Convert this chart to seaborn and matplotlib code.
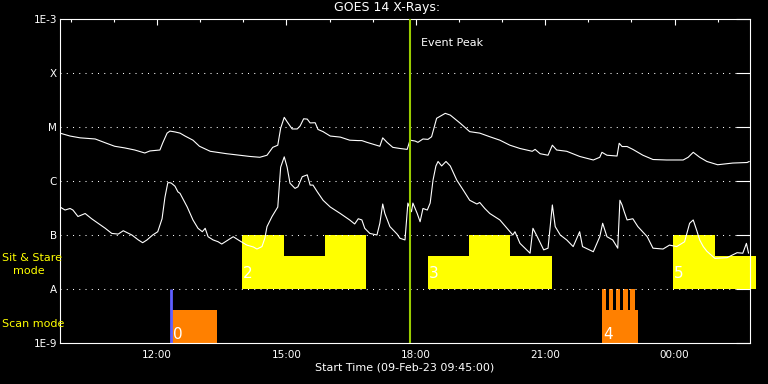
"""GOES 14 X-ray light curves with the instrument observing modes underneath"""

import pandas as pd
import seaborn as sns
import matplotlib
matplotlib.use("Agg")
import matplotlib.pyplot as plt
import matplotlib.dates as mdates
from matplotlib.ticker import NullLocator

DAY = "2023-02-09"
START, END = "09:45", "01:45"

# GOES long channel (upper curve), W/m^2
long_times = ["09:45", "09:59", "10:13", "10:34", "10:48", "11:01", "11:15", "11:29",
              "11:43", "11:50", "12:04", "12:08", "12:14", "12:18", "12:25", "12:32",
              "12:39", "12:50", "12:59", "13:14", "13:37", "13:55", "14:09", "14:23",
              "14:33", "14:41", "14:48", "14:52", "14:57", "15:01", "15:08", "15:15",
              "15:19", "15:24", "15:29", "15:33", "15:40", "15:44", "15:51", "16:01",
              "16:15", "16:28", "16:40", "16:45", "16:52", "17:10", "17:14", "17:20",
              "17:28", "17:38", "17:48", "17:52", "17:59", "18:03", "18:10", "18:17",
              "18:22", "18:29", "18:41", "18:48", "19:02", "19:15", "19:29", "19:43",
              "19:57", "20:11", "20:25", "20:42", "20:46", "20:53", "21:04", "21:10",
              "21:16", "21:30", "21:48", "22:07", "22:16", "22:19", "22:26", "22:40",
              "22:43", "22:47", "22:54", "23:02", "23:16", "23:30", "23:49", "00:12",
              "00:19", "00:26", "00:35", "00:45", "01:00", "01:21", "01:41", "01:44"]
long_flux = [7.7e-6, 6.8e-6, 6.3e-6, 6.0e-6, 5.1e-6, 4.4e-6, 4.1e-6, 3.75e-6,
             3.3e-6, 3.6e-6, 3.75e-6, 5.1e-6, 7.7e-6, 8.4e-6, 8.1e-6, 7.7e-6,
             6.8e-6, 5.7e-6, 4.4e-6, 3.55e-6, 3.2e-6, 3.0e-6, 2.85e-6, 2.75e-6,
             3.0e-6, 4.2e-6, 4.6e-6, 9.5e-6, 1.51e-5, 1.25e-5, 9.2e-6, 9.2e-6,
             1.04e-5, 1.42e-5, 1.40e-5, 1.19e-5, 1.2e-5, 9.0e-6, 8.2e-6, 6.8e-6,
             6.5e-6, 5.7e-6, 5.6e-6, 5.6e-6, 5.2e-6, 4.4e-6, 6.3e-6, 5.2e-6,
             4.2e-6, 4.0e-6, 3.85e-6, 5.7e-6, 5.5e-6, 5.2e-6, 6.0e-6, 5.9e-6,
             6.6e-6, 1.45e-5, 1.79e-5, 1.66e-5, 1.17e-5, 8.2e-6, 7.7e-6, 6.6e-6,
             5.7e-6, 4.6e-6, 4.0e-6, 3.55e-6, 3.85e-6, 3.2e-6, 3.0e-6, 4.6e-6,
             3.75e-6, 3.55e-6, 2.85e-6, 2.45e-6, 2.75e-6, 3.4e-6, 3.0e-6, 2.9e-6,
             5.0e-6, 4.35e-6, 4.35e-6, 3.85e-6, 3.0e-6, 2.5e-6, 2.45e-6, 2.45e-6,
             2.75e-6, 3.4e-6, 2.75e-6, 2.3e-6, 2.0e-6, 2.15e-6, 2.2e-6, 2.3e-6]

# GOES short channel (lower curve), W/m^2
short_times = ["09:45", "09:52", "09:59", "10:03", "10:10", "10:20", "10:29", "10:38",
               "10:48", "10:57", "11:06", "11:13", "11:25", "11:34", "11:40", "11:46",
               "11:54", "12:01", "12:07", "12:11", "12:15", "12:18", "12:20", "12:25",
               "12:29", "12:32", "12:42", "12:50", "12:57", "13:03", "13:07", "13:11",
               "13:18", "13:25", "13:30", "13:37", "13:46", "13:55", "14:05", "14:14",
               "14:19", "14:26", "14:30", "14:33", "14:40", "14:44", "14:48", "14:52",
               "14:57", "15:01", "15:05", "15:12", "15:16", "15:22", "15:29", "15:33",
               "15:37", "15:43", "15:51", "16:01", "16:15", "16:28", "16:35", "16:40",
               "16:45", "16:49", "16:56", "17:06", "17:10", "17:14", "17:17", "17:24",
               "17:34", "17:38", "17:45", "17:49", "17:54", "17:56", "18:02", "18:06",
               "18:10", "18:16", "18:20", "18:24", "18:28", "18:31", "18:36", "18:42",
               "18:48", "18:57", "19:06", "19:15", "19:25", "19:29", "19:36", "19:43",
               "19:57", "20:07", "20:15", "20:18", "20:25", "20:39", "20:43", "20:49",
               "20:58", "21:04", "21:10", "21:14", "21:21", "21:30", "21:39", "21:48",
               "21:52", "22:07", "22:16", "22:20", "22:26", "22:34", "22:41", "22:44",
               "22:47", "22:50", "22:54", "23:02", "23:09", "23:22", "23:30", "23:44",
               "23:53", "00:03", "00:14", "00:21", "00:26", "00:31", "00:35", "00:40",
               "00:45", "00:56", "01:13", "01:27", "01:35", "01:40", "01:43"]
short_flux = [3.3e-7, 2.9e-7, 3.1e-7, 2.9e-7, 2.2e-7, 2.5e-7, 2.0e-7, 1.65e-7,
              1.33e-7, 1.07e-7, 1.04e-7, 1.2e-7, 1.0e-7, 8.1e-8, 7.2e-8, 8.1e-8,
              1.0e-7, 1.15e-7, 2.0e-7, 5.0e-7, 9.3e-7, 9.3e-7, 9.1e-7, 8.0e-7,
              6.3e-7, 5.9e-7, 3.3e-7, 1.9e-7, 1.33e-7, 1.15e-7, 1.33e-7, 9.3e-8,
              8.1e-8, 7.5e-8, 6.8e-8, 7.8e-8, 9.3e-8, 7.8e-8, 6.5e-8, 6.0e-8,
              5.5e-8, 6.1e-8, 8.7e-8, 1.43e-7, 2.2e-7, 2.7e-7, 3.3e-7, 1.8e-6,
              2.8e-6, 1.8e-6, 9.1e-7, 7.3e-7, 7.8e-7, 1.2e-6, 1.3e-6, 8.4e-7,
              8.4e-7, 6.3e-7, 4.4e-7, 3.3e-7, 2.5e-7, 1.9e-7, 1.6e-7, 2.0e-7,
              1.9e-7, 1.33e-7, 1.07e-7, 1.0e-7, 1.65e-7, 3.75e-7, 2.5e-7, 1.43e-7,
              1.04e-7, 8.7e-8, 8.1e-8, 3.9e-7, 2.7e-7, 3.9e-7, 2.5e-7, 1.76e-7,
              3.1e-7, 2.9e-7, 3.9e-7, 1.04e-6, 1.9e-6, 2.3e-6, 1.9e-6, 2.3e-6,
              1.9e-6, 1.04e-6, 6.8e-7, 4.4e-7, 3.75e-7, 4.0e-7, 3.1e-7, 2.5e-7,
              1.9e-7, 1.33e-7, 1.0e-7, 1.15e-7, 7.0e-8, 4.6e-8, 1.33e-7, 9.3e-8,
              5.3e-8, 5.7e-8, 3.6e-7, 1.43e-7, 1.0e-7, 8.1e-8, 6.1e-8, 1.15e-7,
              6.1e-8, 4.9e-8, 9.3e-8, 1.65e-7, 9.3e-8, 8.1e-8, 5.7e-8, 4.4e-7,
              3.6e-7, 2.7e-7, 1.9e-7, 2.0e-7, 1.43e-7, 9.3e-8, 5.7e-8, 5.5e-8,
              6.5e-8, 6.1e-8, 7.5e-8, 1.65e-7, 1.9e-7, 1.2e-7, 8.1e-8, 6.1e-8,
              5.0e-8, 3.7e-8, 3.8e-8, 4.7e-8, 4.6e-8, 7.0e-8, 4.6e-8]

event_peak = "17:52"
scan_marker = "12:19"

# sit & stare blocks: start, end, level (1 = low step, 2 = full band)
stare_starts = ["13:58", "14:57", "15:54", "18:17", "19:14", "20:11", "23:58", "00:56"]
stare_ends = ["14:57", "15:54", "16:51", "19:14", "20:11", "21:10", "00:56", "01:53"]
stare_levels = [2, 1, 2, 1, 2, 1, 2, 1]

# scan blocks
scan_starts = ["12:21", "22:19", "22:19", "22:29", "22:38", "22:48", "22:58"]
scan_ends = ["13:23", "23:09", "22:25", "22:34", "22:44", "22:55", "23:05"]
scan_levels = [1, 1, 2, 2, 2, 2, 2]

obs_ids = ["0", "2", "3", "4", "5"]
obs_starts = ["12:21", "13:58", "18:17", "22:19", "23:58"]
obs_modes = ["scan", "stare", "stare", "scan", "stare"]

class_levels = [1e-9, 1e-8, 1e-7, 1e-6, 1e-5, 1e-4, 1e-3]
class_labels = ["1E-9", "A", "B", "C", "M", "X", "1E-3"]

YELLOW = "#ffff00"
ORANGE = "#ff8000"
GREEN = "#99cc00"
BLUE = "#5f5fff"
STEP_DECADES = {1: 0.61, 2: 1.0}
BAND_BOTTOM = {"stare": 1e-8, "scan": 1e-9}
LABEL_RISE = {"stare": 11, "scan": 4}


def to_stamp(hhmm: str) -> pd.Timestamp:
    """clock string to timestamp, times before 09:00 belong to the next day"""
    t = pd.Timestamp(f"{DAY} {hhmm}")
    return t + pd.Timedelta(days=1) if t.hour < 9 else t


def to_num(hhmm: str) -> float:
    return mdates.date2num(to_stamp(hhmm))


def draw_blocks(ax, starts, ends, levels, mode, color):
    bottom = BAND_BOTTOM[mode]
    for s, e, lv in zip(starts, ends, levels):
        x0, x1 = to_num(s), to_num(e)
        top = bottom * 10 ** STEP_DECADES[lv]
        ax.bar(x0, top - bottom, width=x1 - x0, bottom=bottom, align="edge",
               color=color, linewidth=0, zorder=1, clip_on=False)


def main() -> None:
    sns.set_style("dark")
    plt.rcParams.update({
        "font.family": ["DejaVu Sans"],
        "text.color": "white",
        "axes.edgecolor": "white",
        "axes.linewidth": 0.8,
        "xtick.color": "white",
        "ytick.color": "white",
    })

    long_df = pd.DataFrame({"time": [to_stamp(t) for t in long_times], "flux": long_flux})
    short_df = pd.DataFrame({"time": [to_stamp(t) for t in short_times], "flux": short_flux})

    fig = plt.figure(figsize=(7.68, 3.84), dpi=100, facecolor="black")
    ax = fig.add_axes([60 / 768, 41 / 384, 690 / 768, 324 / 384], facecolor="black")

    sns.lineplot(data=long_df, x="time", y="flux", ax=ax, color="white", linewidth=0.8, zorder=3)
    sns.lineplot(data=short_df, x="time", y="flux", ax=ax, color="white", linewidth=0.8, zorder=3)

    draw_blocks(ax, stare_starts, stare_ends, stare_levels, "stare", YELLOW)
    draw_blocks(ax, scan_starts, scan_ends, scan_levels, "scan", ORANGE)

    ax.vlines(to_num(scan_marker), 1e-9, 1e-8, color=BLUE, linewidth=2, zorder=2)
    ax.axvline(to_num(event_peak), color=GREEN, linewidth=1.5, zorder=4)
    ax.annotate("Event Peak", xy=(to_num(event_peak), 1), xycoords=("data", "axes fraction"),
                xytext=(11, -24), textcoords="offset pixels", ha="left", va="center",
                color="white", fontsize=8)

    for oid, st, mode in zip(obs_ids, obs_starts, obs_modes):
        ax.annotate(oid, xy=(to_num(st), BAND_BOTTOM[mode]), xytext=(1, LABEL_RISE[mode]),
                    textcoords="offset pixels", ha="left", va="baseline",
                    color="white", fontsize=11, zorder=5)

    for lvl in class_levels[1:-1]:
        ax.axhline(lvl, color="white", linewidth=0.75, linestyle=(0, (1, 5)), zorder=2)

    ax.set_yscale("log")
    ax.set_ylim(class_levels[0], class_levels[-1])
    ax.set_yticks(class_levels, labels=class_labels)
    ax.yaxis.set_minor_locator(NullLocator())
    ax.set_xlim(to_num(START), to_num(END))
    ax.xaxis.set_major_locator(mdates.HourLocator(byhour=range(0, 24, 3)))
    ax.xaxis.set_minor_locator(mdates.HourLocator())
    ax.xaxis.set_major_formatter(mdates.DateFormatter("%H:%M"))

    ax.tick_params(axis="both", which="both", direction="in", top=True, right=True,
                   width=0.8, labelsize=7.5)
    ax.tick_params(axis="x", which="major", length=4.5, pad=5)
    ax.tick_params(axis="x", which="minor", length=2.2)
    ax.tick_params(axis="y", which="major", length=10, pad=2)
    ax.grid(False)

    ax.set_xlabel("Start Time (09-Feb-23 09:45:00)", color="white", fontsize=8, labelpad=2)
    ax.set_ylabel("")

    fig.text(387 / 768, 1 - 8 / 384, "GOES 14 X-Rays:", ha="center", va="center",
             color="white", fontsize=9)
    fig.text(2 / 768, 1 - 258 / 384, "Sit & Stare", ha="left", va="center",
             color=YELLOW, fontsize=8)
    fig.text(13 / 768, 1 - 271 / 384, "mode", ha="left", va="center",
             color=YELLOW, fontsize=8)
    fig.text(2 / 768, 1 - 324 / 384, "Scan mode", ha="left", va="center",
             color=YELLOW, fontsize=8)

    fig.savefig("out.png", dpi=100, facecolor="black")
    plt.close(fig)


if __name__ == "__main__":
    main()
